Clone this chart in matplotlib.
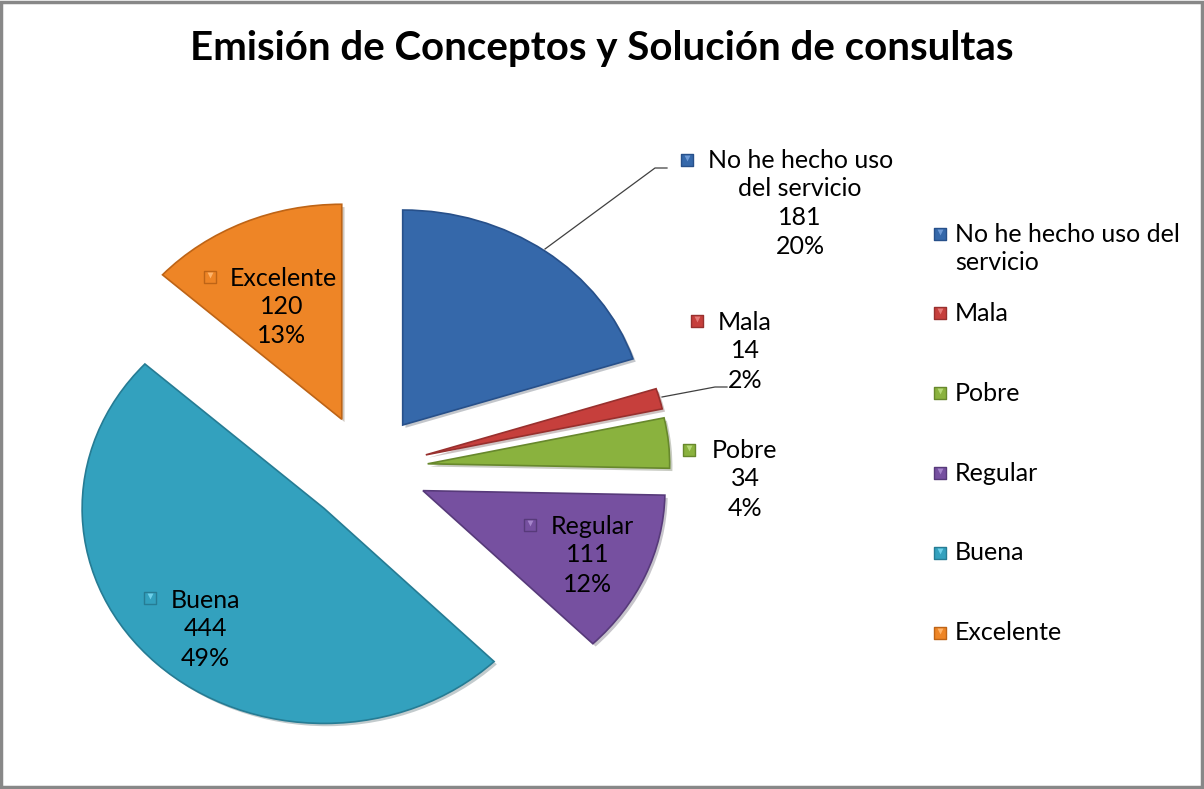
import numpy as np
import matplotlib
matplotlib.use("Agg")
import matplotlib.pyplot as plt
import matplotlib.patheffects as pe
from matplotlib.patches import Rectangle

# datos del grafico
categorias = ["No he hecho uso del servicio", "Mala", "Pobre", "Regular", "Buena", "Excelente"]
valores = [181, 14, 34, 111, 444, 120]
porcentajes = ["20%", "2%", "4%", "12%", "49%", "13%"]
titulo = "Emisión de Conceptos y Solución de consultas"

colores = ["#3568AA", "#C63F3C", "#8AB23E", "#7650A0", "#33A1BE", "#EE8526"]
bordes = ["#27508A", "#98302E", "#67882C", "#573A7A", "#267C94", "#BE6416"]
claros = ["#6E9AD6", "#E57B78", "#B6D977", "#A585CB", "#6FD0EA", "#FFB46A"]

plt.rcParams['font.family'] = ['Lato', 'DejaVu Sans']

W, H = 1204, 789
fig = plt.figure(figsize=(W / 100, H / 100), dpi=100)

# el pastel va algo estirado en horizontal, como en el original
cx, cy = 366.6, 469.1
rx, ry = 242, 215
L = 1.6
axp = fig.add_axes([(cx - L * rx) / W, (H - cy - L * ry) / H, 2 * L * rx / W, 2 * L * ry / H])
wedges, _ = axp.pie(valores, colors=colores, startangle=90, counterclock=False,
                    explode=[0.2535] * len(valores), radius=1,
                    wedgeprops=dict(linewidth=1.2))
for w, e in zip(wedges, bordes):
    w.set_edgecolor(e)
    w.set_path_effects([pe.SimplePatchShadow(offset=(2, -2), alpha=0.25), pe.Normal()])
axp.set_xlim(-L, L)
axp.set_ylim(-L, L)
axp.set_aspect('auto')
axp.axis('off')

ax = fig.add_axes([0, 0, 1, 1])
ax.set_xlim(0, W)
ax.set_ylim(0, H)
ax.axis('off')

def Y(y):
    # coordenadas de pixel con y hacia abajo
    return H - y

fs = 18

def marca(x, y, i):
    ax.scatter([x], [Y(y)], marker='s', s=70, color=colores[i],
               edgecolor=bordes[i], linewidth=1, zorder=5)
    ax.scatter([x], [Y(y) + 2], marker='v', s=18, color=claros[i],
               linewidth=0, zorder=6)

# etiquetas de datos
# No he hecho uso del servicio
ax.plot([545, 655, 667], [Y(249), Y(168), Y(168)], color='#404040', lw=0.9)
marca(687, 160, 0)
ax.text(708, Y(160), "No he hecho uso", fontsize=fs, ha='left', va='center')
ax.text(800, Y(188), "del servicio", fontsize=fs, ha='center', va='center')
ax.text(800, Y(217), str(valores[0]), fontsize=fs, ha='center', va='center')
ax.text(800, Y(246), porcentajes[0], fontsize=fs, ha='center', va='center')

# Mala
ax.plot([662, 715, 727], [Y(397), Y(387), Y(387)], color='#404040', lw=0.9)
marca(697, 321, 1)
ax.text(718, Y(322), "Mala", fontsize=fs, ha='left', va='center')
ax.text(745, Y(350), str(valores[1]), fontsize=fs, ha='center', va='center')
ax.text(745, Y(380), porcentajes[1], fontsize=fs, ha='center', va='center')

# Pobre
marca(689, 450, 2)
ax.text(712, Y(450), "Pobre", fontsize=fs, ha='left', va='center')
ax.text(745, Y(478), str(valores[2]), fontsize=fs, ha='center', va='center')
ax.text(745, Y(508), porcentajes[2], fontsize=fs, ha='center', va='center')

# Regular
marca(530, 525, 3)
ax.text(551, Y(526), "Regular", fontsize=fs, ha='left', va='center')
ax.text(588, Y(555), str(valores[3]), fontsize=fs, ha='center', va='center')
ax.text(588, Y(585), porcentajes[3], fontsize=fs, ha='center', va='center')

# Buena
marca(150, 598, 4)
ax.text(171, Y(600), "Buena", fontsize=fs, ha='left', va='center')
ax.text(205, Y(628), str(valores[4]), fontsize=fs, ha='center', va='center')
ax.text(205, Y(658), porcentajes[4], fontsize=fs, ha='center', va='center')

# Excelente
marca(210, 277, 5)
ax.text(230, Y(278), "Excelente", fontsize=fs, ha='left', va='center')
ax.text(282, Y(306), str(valores[5]), fontsize=fs, ha='center', va='center')
ax.text(282, Y(335), porcentajes[5], fontsize=fs, ha='center', va='center')

# leyenda
ley_y = [234, 313, 393, 473, 553, 633]
ley_txt = ["No he hecho uso del", "Mala", "Pobre", "Regular", "Buena", "Excelente"]
for i, (yy, t) in enumerate(zip(ley_y, ley_txt)):
    marca(940, yy, i)
    ax.text(955, Y(yy), t, fontsize=fs, ha='left', va='center')
ax.text(955, Y(262), "servicio", fontsize=fs, ha='left', va='center')

# titulo
ax.text(602, Y(48), titulo, fontsize=29, fontweight='bold', ha='center', va='center')

# marco
fig.patches.append(Rectangle((0.001, 0.002), 0.997, 0.995, transform=fig.transFigure,
                             fill=False, edgecolor='#888888', linewidth=2.5))

fig.savefig("out.png", dpi=100)
